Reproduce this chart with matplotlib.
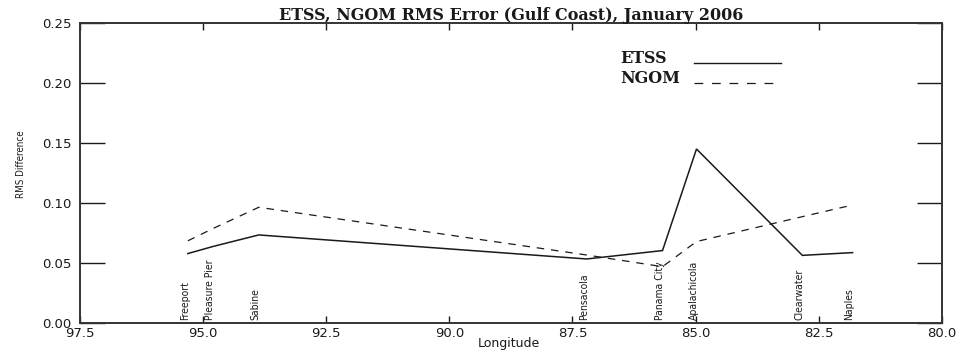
import matplotlib
matplotlib.use("Agg")
import matplotlib.pyplot as plt
from matplotlib.ticker import FixedLocator, FormatStrFormatter

# Tide-gauge stations along the Gulf coast (west -> east)
stations = ["Freeport", "Pleasure Pier", "Sabine", "Pensacola",
            "Panama City", "Apalachicola", "Clearwater", "Naples"]
longitude = [95.31, 94.79, 93.87, 87.21, 85.67, 84.98, 82.83, 81.81]

# RMS differences for January 2006
etss_rms = [0.058, 0.064, 0.0735, 0.0535, 0.0605, 0.145, 0.0565, 0.0588]
ngom_rms = [0.0686, 0.079, 0.0965, 0.0568, 0.0471, 0.068, 0.0887, 0.0984]

x_ticks = [97.5, 95.0, 92.5, 90.0, 87.5, 85.0, 82.5, 80.0]
y_ticks = [0.00, 0.05, 0.10, 0.15, 0.20, 0.25]

ink = "#1a1a1a"
serif_bold = dict(family=["DejaVu Serif"], fontweight="bold")
narrow = dict(family=["DejaVu Sans"], fontstretch="condensed")

fig = plt.figure(figsize=(9.58, 3.5), dpi=100)
ax = fig.add_axes([0.0835, 0.0763, 0.8995, 0.8587])

ax.plot(longitude, etss_rms, color=ink, lw=1.1, solid_joinstyle="miter")
ax.plot(longitude, ngom_rms, color=ink, lw=0.9, dashes=(6, 5.5))

ax.set_xlim(97.5, 80.0)
ax.set_ylim(0.0, 0.25)

ax.xaxis.set_major_locator(FixedLocator(x_ticks))
ax.yaxis.set_major_locator(FixedLocator(y_ticks))
ax.xaxis.set_major_formatter(FormatStrFormatter("%.1f"))
ax.yaxis.set_major_formatter(FormatStrFormatter("%.2f"))

ax.tick_params(axis="x", direction="in", length=5, width=1.0, top=True,
               bottom=True, colors=ink, labelsize=9.5, pad=3)
ax.tick_params(axis="y", direction="in", length=18, width=1.0, left=True,
               right=True, colors=ink, labelsize=9.5, pad=6)
for side in ax.spines.values():
    side.set_linewidth(1.4)
    side.set_color("#333333")

# Station names, written upward from just above the axis
for name, lon in zip(stations, longitude):
    ax.text(lon, 0.003, name, rotation=90, rotation_mode="anchor",
            ha="left", va="baseline", fontsize=7.5, color=ink, **narrow)

ax.set_title("ETSS, NGOM RMS Error (Gulf Coast), January 2006",
             fontsize=11.5, color=ink, pad=2, **serif_bold)
fig.text(0.531, 0.018, "Longitude", ha="center", va="center",
         fontsize=9, color=ink)
fig.text(0.022, 0.531, "RMS Difference", rotation=90, ha="center",
         va="center", fontsize=7, color=ink, **narrow)

# Key in the upper right of the plot
ax.text(0.627, 0.865, "ETSS", transform=ax.transAxes, ha="left",
        va="baseline", fontsize=11.5, color=ink, **serif_bold)
ax.plot([0.713, 0.814], [0.865, 0.865], transform=ax.transAxes,
        color=ink, lw=1.0)
ax.text(0.627, 0.798, "NGOM", transform=ax.transAxes, ha="left",
        va="baseline", fontsize=11.5, color=ink, **serif_bold)
ax.plot([0.713, 0.8066], [0.798, 0.798], transform=ax.transAxes,
        color=ink, lw=0.9, dashes=(7, 7))

fig.savefig("out.png", dpi=100)
